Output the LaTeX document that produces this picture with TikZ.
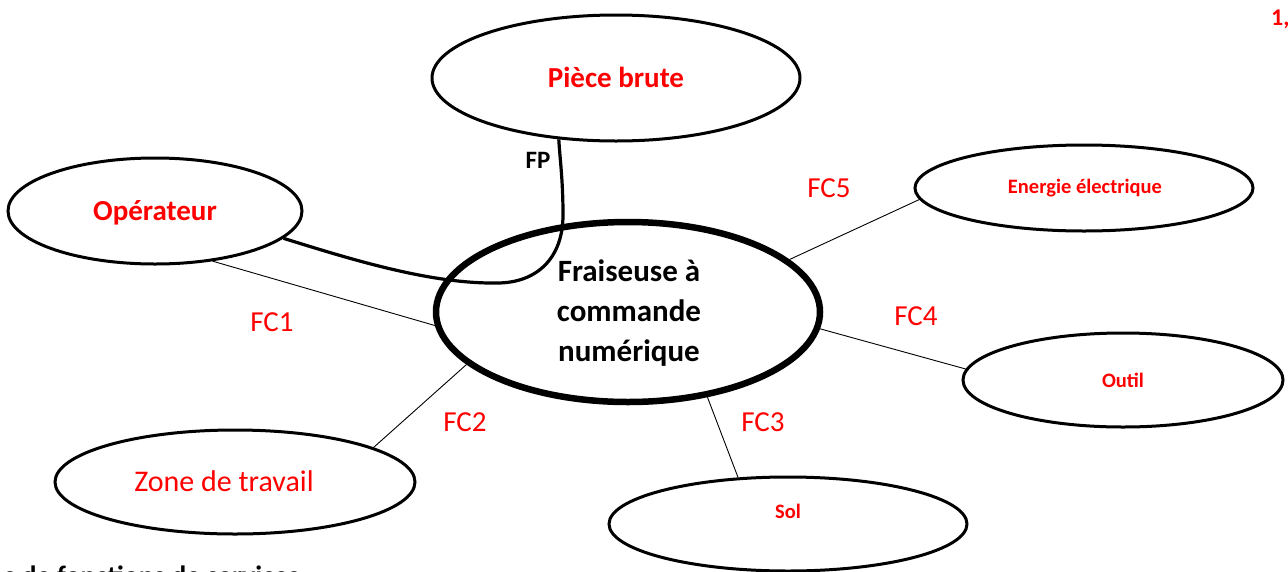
\documentclass[tikz,border=0pt]{standalone}
\usepackage{fontspec}
\setmainfont{Carlito}
\usetikzlibrary{shapes.geometric}
\definecolor{lblred}{RGB}{255,0,0}
\tikzset{
  ell/.style={ellipse, draw=black, line width=3pt, inner sep=0pt, fill=white},
  mainell/.style={ellipse, draw=black, line width=6.5pt, inner sep=0pt, fill=white},
  thin/.style={draw=black, line width=0.9pt},
  fpline/.style={draw=black, line width=3.2pt},
  redbig/.style={text=lblred, font=\bfseries\fontsize{29}{34}\selectfont},
  redsmall/.style={text=lblred, font=\bfseries\fontsize{20.5}{24}\selectfont},
  fclabel/.style={text=lblred, font=\fontsize{29}{34}\selectfont},
}
\begin{document}
\begin{tikzpicture}[x=1pt,y=-1pt]
\useasboundingbox (0,0) rectangle (1288,571);
% ellipses
\node[ell, minimum width=368pt, minimum height=126pt] (pb) at (616,78) {};
\node[ell, minimum width=294pt, minimum height=106pt] (op) at (155,211) {};
\node[ell, minimum width=338pt, minimum height=86pt] (ee) at (1084,188) {};
\node[ell, minimum width=320pt, minimum height=94pt] (ou) at (1123,380) {};
\node[ell, minimum width=358pt, minimum height=94pt] (so) at (788,524) {};
\node[ell, minimum width=360pt, minimum height=104pt] (zt) at (235,482) {};
% FP curve
\draw[fpline] (op.-12) .. controls (350,259) and (430,284) .. (497,283)
  .. controls (537,283) and (563,258) .. (563,215)
  .. controls (563,180) and (560,160) .. (pb.227);
% main ellipse
\node[mainell, minimum width=384pt, minimum height=180pt, fill=none] (fm) at (628,312) {};
% thin connectors
\draw[thin] (op.-41) -- (fm.184);
\draw[thin] (zt.14) -- (fm.198);
\draw[thin] (so.137) -- (fm.-47);
\draw[thin] (ou.176) -- (fm.-5);
\draw[thin] (ee.184) -- (fm.18.4);
% texts
\node[redbig] (tpb) at (616,77) {Pièce brute};
\node[redbig] (top) at (155,213) {Opérateur};
\node[redsmall] (tee) at (1085,188) {Energie électrique};
\node[redsmall] (tou) at (1123,380) {Outil};
\node[redsmall] (tso) at (788,511) {Sol};
\node[text=lblred, font=\fontsize{30}{34}\selectfont] (tzt) at (224,481) {Zone de travail};
\node[font=\bfseries\fontsize{31}{40}\selectfont, align=center] (tfm) at (629,313) {Fraiseuse à\\commande\\numérique};
\node[fclabel] (fc1) at (272,322) {FC1};
\node[fclabel] (fc2) at (465,422) {FC2};
\node[fclabel] (fc3) at (763,422) {FC3};
\node[fclabel] (fc4) at (916,316) {FC4};
\node[fclabel] (fc5) at (829,188) {FC5};
\node[font=\bfseries\fontsize{25}{30}\selectfont] (fp) at (538,160) {FP};
\node[text=lblred, font=\bfseries\fontsize{24}{28}\selectfont, anchor=west, inner sep=0pt] (one) at (1271,19) {1,};
\node[font=\bfseries\fontsize{28}{32}\selectfont, anchor=base west, inner sep=0pt] (bot) at (4,585) {s de fonctions de services};
\end{tikzpicture}
\end{document}
